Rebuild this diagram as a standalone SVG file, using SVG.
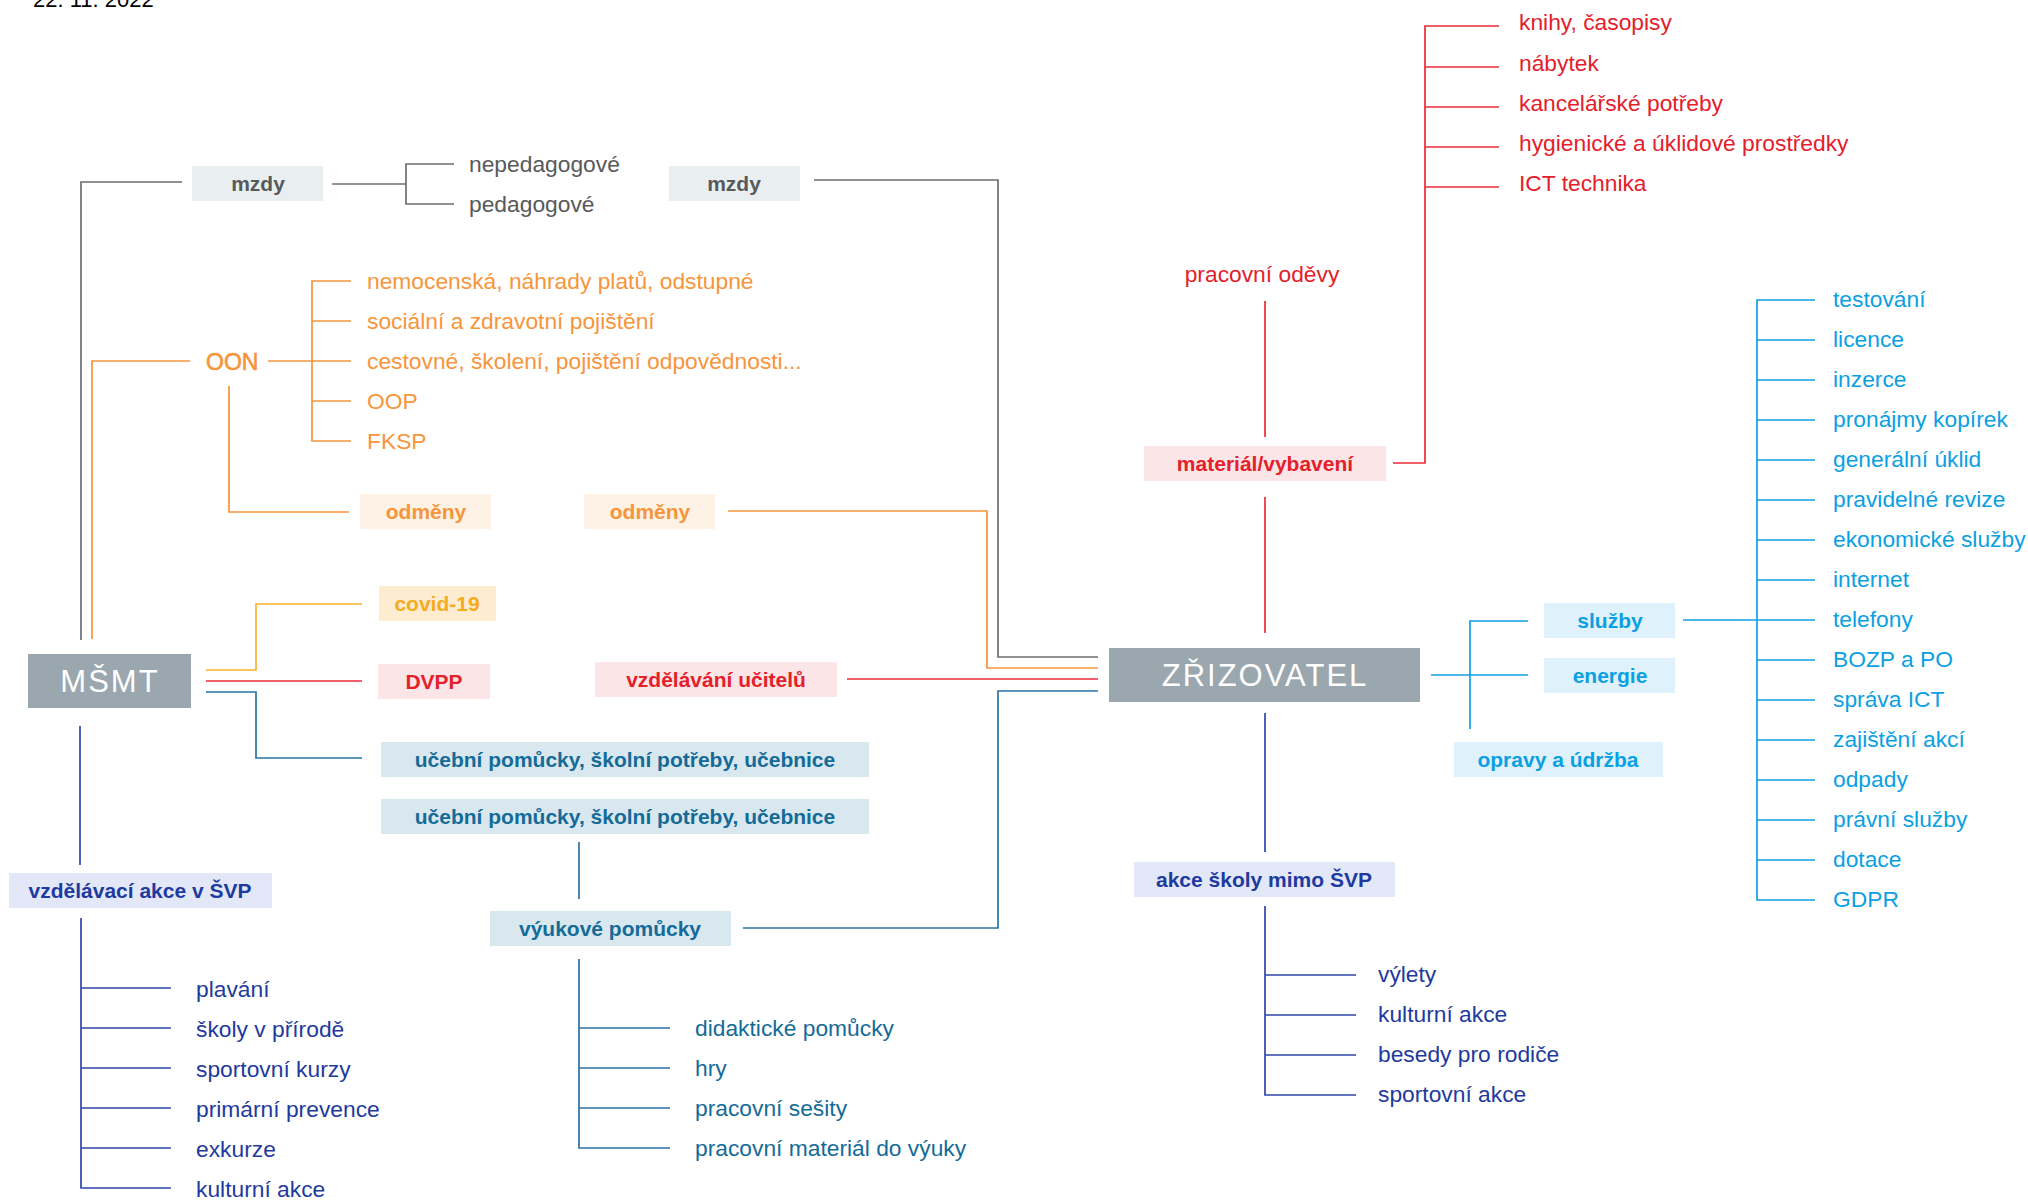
<svg xmlns="http://www.w3.org/2000/svg" width="2028" height="1200" viewBox="0 0 2028 1200">
<style>
text{font-family:"Liberation Sans",Arial,sans-serif;}
.it{font-size:22.8px;}
.lb{font-size:21px;font-weight:bold;text-anchor:middle;}
.main{font-size:31px;fill:#ffffff;text-anchor:middle;letter-spacing:2px;}
.mb{fill:#9aa7ae;}
.c line,.c polyline{fill:none;stroke-width:1.7;}
.g{stroke:#6d6e71;} .o{stroke:#f7953b;} .y{stroke:#fbb12b;} .r{stroke:#ea2b36;} .t{stroke:#2a73a6;} .b{stroke:#2e46ad;} .l{stroke:#109fe3;}
.tg{fill:#58595b;} .to{fill:#f7953b;} .ty{fill:#f6ab1c;} .tr{fill:#e4202b;} .tt{fill:#156b98;} .tb{fill:#1f3a9e;} .tl{fill:#0b9fe3;}
.fg{fill:#e9eff0;} .fo{fill:#fef1e5;} .fy{fill:#fdecd0;} .fr{fill:#fbe5e7;} .ft{fill:#d9e7ef;} .fb{fill:#e2e8f8;} .fl{fill:#dff2fc;}
</style>
<rect width="2028" height="1200" fill="#ffffff"/>
<text x="33" y="7" style="font-size:22px;fill:#000">22. 11. 2022</text>

<g class="c" id="connectors">
  <polyline class="g" points="81,640 81,182 182,182"/>
  <line class="g" x1="332" y1="184" x2="406" y2="184"/>
  <polyline class="g" points="454,164 406,164 406,204 454,204"/>
  <polyline class="g" points="814,180 998,180 998,657 1098,657"/>

  <polyline class="o" points="92,639 92,361 190,361"/>
  <line class="o" x1="268" y1="361" x2="351" y2="361"/>
  <polyline class="o" points="351,281 312,281 312,441 351,441"/>
  <line class="o" x1="312" y1="321" x2="351" y2="321"/>
  <line class="o" x1="312" y1="401" x2="351" y2="401"/>
  <polyline class="o" points="229,386 229,512 349,512"/>
  <polyline class="o" points="728,511 987,511 987,668 1098,668"/>

  <polyline class="y" points="206,670 256,670 256,604 362,604"/>

  <line class="r" x1="206" y1="681" x2="362" y2="681"/>
  <line class="r" x1="847" y1="679" x2="1098" y2="679"/>
  <line class="r" x1="1265" y1="301" x2="1265" y2="437"/>
  <line class="r" x1="1265" y1="497" x2="1265" y2="633"/>
  <polyline class="r" points="1393,463 1425,463 1425,26 1499,26"/>
  <line class="r" x1="1425" y1="67" x2="1499" y2="67"/>
  <line class="r" x1="1425" y1="107" x2="1499" y2="107"/>
  <line class="r" x1="1425" y1="147" x2="1499" y2="147"/>
  <line class="r" x1="1425" y1="187" x2="1499" y2="187"/>

  <polyline class="t" points="206,692 256,692 256,758 362,758"/>
  <line class="t" x1="579" y1="842" x2="579" y2="899"/>
  <polyline class="t" points="743,928 998,928 998,691 1098,691"/>
  <polyline class="t" points="579,959 579,1148 670,1148"/>
  <line class="t" x1="579" y1="1028" x2="670" y2="1028"/>
  <line class="t" x1="579" y1="1068" x2="670" y2="1068"/>
  <line class="t" x1="579" y1="1108" x2="670" y2="1108"/>

  <line class="b" x1="80" y1="726" x2="80" y2="865"/>
  <polyline class="b" points="81,918 81,1188 171,1188"/>
  <line class="b" x1="81" y1="988" x2="171" y2="988"/>
  <line class="b" x1="81" y1="1028" x2="171" y2="1028"/>
  <line class="b" x1="81" y1="1068" x2="171" y2="1068"/>
  <line class="b" x1="81" y1="1108" x2="171" y2="1108"/>
  <line class="b" x1="81" y1="1148" x2="171" y2="1148"/>
  <line class="b" x1="1265" y1="713" x2="1265" y2="852"/>
  <polyline class="b" points="1265,906 1265,1095 1356,1095"/>
  <line class="b" x1="1265" y1="975" x2="1356" y2="975"/>
  <line class="b" x1="1265" y1="1015" x2="1356" y2="1015"/>
  <line class="b" x1="1265" y1="1055" x2="1356" y2="1055"/>

  <line class="l" x1="1431" y1="675" x2="1528" y2="675"/>
  <polyline class="l" points="1528,621 1470,621 1470,729"/>
  <line class="l" x1="1683" y1="620" x2="1815" y2="620"/>
  <polyline class="l" points="1815,300 1757,300 1757,900 1815,900"/>
  <line class="l" x1="1757" y1="340" x2="1815" y2="340"/>
  <line class="l" x1="1757" y1="380" x2="1815" y2="380"/>
  <line class="l" x1="1757" y1="420" x2="1815" y2="420"/>
  <line class="l" x1="1757" y1="460" x2="1815" y2="460"/>
  <line class="l" x1="1757" y1="500" x2="1815" y2="500"/>
  <line class="l" x1="1757" y1="540" x2="1815" y2="540"/>
  <line class="l" x1="1757" y1="580" x2="1815" y2="580"/>
  <line class="l" x1="1757" y1="660" x2="1815" y2="660"/>
  <line class="l" x1="1757" y1="700" x2="1815" y2="700"/>
  <line class="l" x1="1757" y1="740" x2="1815" y2="740"/>
  <line class="l" x1="1757" y1="780" x2="1815" y2="780"/>
  <line class="l" x1="1757" y1="820" x2="1815" y2="820"/>
  <line class="l" x1="1757" y1="860" x2="1815" y2="860"/>
</g>

<g id="msmt"><rect class="mb" x="28" y="654" width="163" height="54"/><text class="main" x="110" y="692">MŠMT</text></g>
<g id="zrizovatel"><rect class="mb" x="1109" y="648" width="311" height="54"/><text class="main" x="1265" y="686">ZŘIZOVATEL</text></g>

<g id="mzdy1"><rect class="fg" x="192" y="166" width="131" height="35"/><text class="lb tg" x="258" y="191">mzdy</text></g>
<g id="mzdy2"><rect class="fg" x="669" y="166" width="131" height="35"/><text class="lb tg" x="734" y="191">mzdy</text></g>
<g id="mzdy-items">
  <text class="it tg" x="469" y="172">nepedagogové</text>
  <text class="it tg" x="469" y="212">pedagogové</text>
</g>

<g id="oon"><text class="to" x="206" y="370" style="font-size:23px;stroke:#f7953b;stroke-width:0.6px">OON</text></g>
<g id="oon-items">
  <text class="it to" x="367" y="289">nemocenská, náhrady platů, odstupné</text>
  <text class="it to" x="367" y="329">sociální a zdravotní pojištění</text>
  <text class="it to" x="367" y="369">cestovné, školení, pojištění odpovědnosti...</text>
  <text class="it to" x="367" y="409">OOP</text>
  <text class="it to" x="367" y="449">FKSP</text>
</g>
<g id="odmeny1"><rect class="fo" x="360" y="494" width="131" height="35"/><text class="lb to" x="426" y="519">odměny</text></g>
<g id="odmeny2"><rect class="fo" x="584" y="494" width="131" height="35"/><text class="lb to" x="650" y="519">odměny</text></g>

<g id="covid"><rect class="fy" x="379" y="586" width="117" height="35"/><text class="lb ty" x="437" y="611">covid-19</text></g>
<g id="dvpp"><rect class="fr" x="378" y="664" width="112" height="35"/><text class="lb tr" x="434" y="689">DVPP</text></g>
<g id="vzdelavani-ucitelu"><rect class="fr" x="595" y="662" width="242" height="35"/><text class="lb tr" x="716" y="687">vzdělávání učitelů</text></g>

<g id="ucebni1"><rect class="ft" x="381" y="742" width="488" height="35"/><text class="lb tt" x="625" y="767">učební pomůcky, školní potřeby, učebnice</text></g>
<g id="ucebni2"><rect class="ft" x="381" y="799" width="488" height="35"/><text class="lb tt" x="625" y="824">učební pomůcky, školní potřeby, učebnice</text></g>
<g id="vyukove"><rect class="ft" x="490" y="911" width="241" height="35"/><text class="lb tt" x="610" y="936">výukové pomůcky</text></g>
<g id="vyukove-items">
  <text class="it tt" x="695" y="1036">didaktické pomůcky</text>
  <text class="it tt" x="695" y="1076">hry</text>
  <text class="it tt" x="695" y="1116">pracovní sešity</text>
  <text class="it tt" x="695" y="1156">pracovní materiál do výuky</text>
</g>

<g id="vzdelavaci-akce"><rect class="fb" x="9" y="873" width="263" height="35"/><text class="lb tb" x="140" y="898">vzdělávací akce v ŠVP</text></g>
<g id="vzdelavaci-items">
  <text class="it tb" x="196" y="997">plavání</text>
  <text class="it tb" x="196" y="1037">školy v přírodě</text>
  <text class="it tb" x="196" y="1077">sportovní kurzy</text>
  <text class="it tb" x="196" y="1117">primární prevence</text>
  <text class="it tb" x="196" y="1157">exkurze</text>
  <text class="it tb" x="196" y="1197">kulturní akce</text>
</g>

<g id="pracovni-odevy"><text class="it tr" x="1262" y="282" text-anchor="middle">pracovní oděvy</text></g>
<g id="material"><rect class="fr" x="1144" y="446" width="242" height="35"/><text class="lb tr" x="1265" y="471">materiál/vybavení</text></g>
<g id="material-items">
  <text class="it tr" x="1519" y="30">knihy, časopisy</text>
  <text class="it tr" x="1519" y="71">nábytek</text>
  <text class="it tr" x="1519" y="111">kancelářské potřeby</text>
  <text class="it tr" x="1519" y="151">hygienické a úklidové prostředky</text>
  <text class="it tr" x="1519" y="191">ICT technika</text>
</g>

<g id="akce-skoly"><rect class="fb" x="1134" y="862" width="261" height="35"/><text class="lb tb" x="1264" y="887">akce školy mimo ŠVP</text></g>
<g id="akce-items">
  <text class="it tb" x="1378" y="982">výlety</text>
  <text class="it tb" x="1378" y="1022">kulturní akce</text>
  <text class="it tb" x="1378" y="1062">besedy pro rodiče</text>
  <text class="it tb" x="1378" y="1102">sportovní akce</text>
</g>

<g id="sluzby"><rect class="fl" x="1544" y="603" width="131" height="35"/><text class="lb tl" x="1610" y="628">služby</text></g>
<g id="energie"><rect class="fl" x="1544" y="658" width="131" height="35"/><text class="lb tl" x="1610" y="683">energie</text></g>
<g id="opravy"><rect class="fl" x="1454" y="742" width="209" height="35"/><text class="lb tl" x="1558" y="767">opravy a údržba</text></g>
<g id="sluzby-items">
  <text class="it tl" x="1833" y="307">testování</text>
  <text class="it tl" x="1833" y="347">licence</text>
  <text class="it tl" x="1833" y="387">inzerce</text>
  <text class="it tl" x="1833" y="427">pronájmy kopírek</text>
  <text class="it tl" x="1833" y="467">generální úklid</text>
  <text class="it tl" x="1833" y="507">pravidelné revize</text>
  <text class="it tl" x="1833" y="547">ekonomické služby</text>
  <text class="it tl" x="1833" y="587">internet</text>
  <text class="it tl" x="1833" y="627">telefony</text>
  <text class="it tl" x="1833" y="667">BOZP a PO</text>
  <text class="it tl" x="1833" y="707">správa ICT</text>
  <text class="it tl" x="1833" y="747">zajištění akcí</text>
  <text class="it tl" x="1833" y="787">odpady</text>
  <text class="it tl" x="1833" y="827">právní služby</text>
  <text class="it tl" x="1833" y="867">dotace</text>
  <text class="it tl" x="1833" y="907">GDPR</text>
</g>
</svg>
